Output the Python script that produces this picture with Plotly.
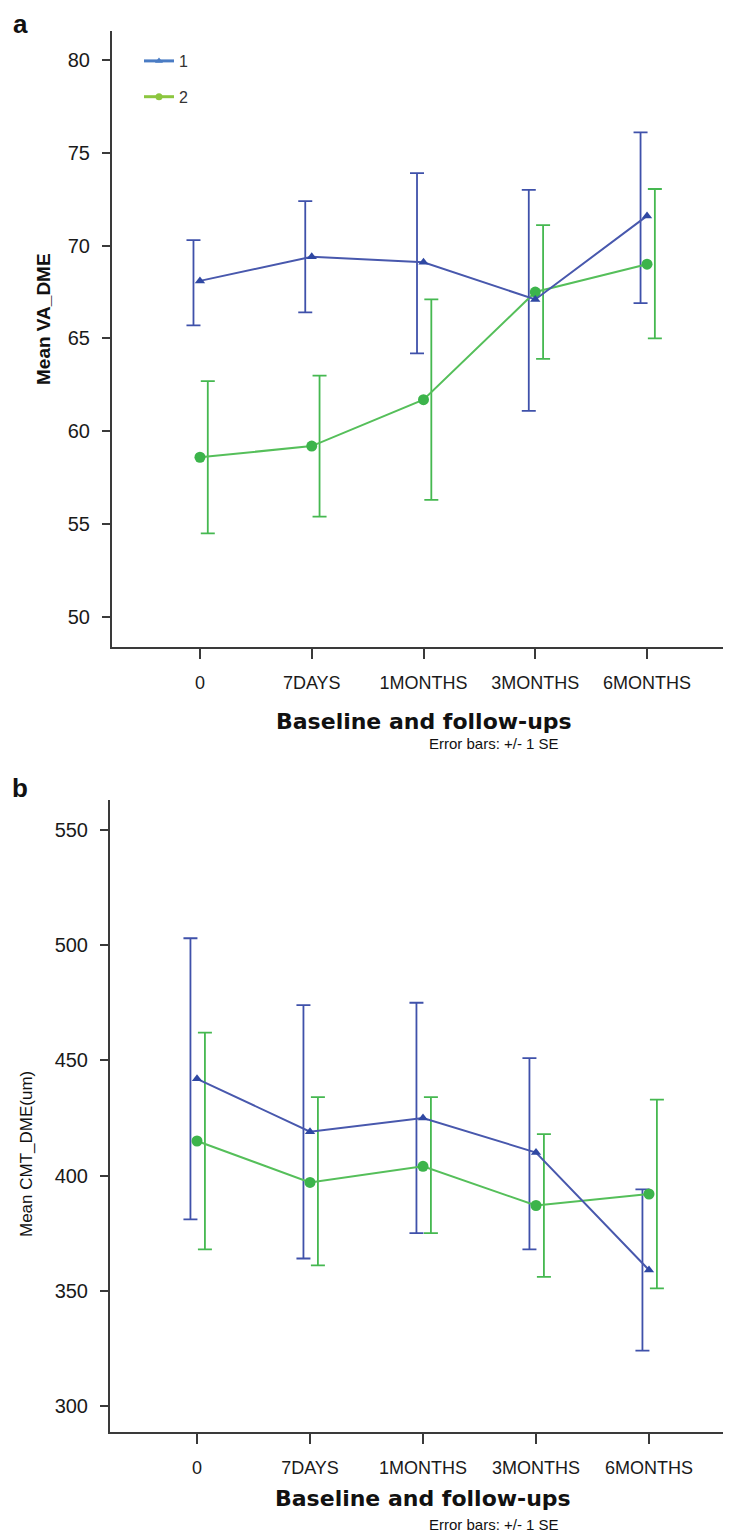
import plotly.graph_objects as go

W, H = 731, 1531

categories = ["0", "7DAYS", "1MONTHS", "3MONTHS", "6MONTHS"]
series_names = ["1", "2"]

# Panel a: Mean VA_DME (+/- 1 SE)
va_g1_mean = [68.1, 69.4, 69.1, 67.1, 71.6]
va_g1_upper = [70.3, 72.4, 73.9, 73.0, 76.1]
va_g1_lower = [65.7, 66.4, 64.2, 61.1, 66.9]
va_g2_mean = [58.6, 59.2, 61.7, 67.5, 69.0]
va_g2_upper = [62.7, 63.0, 67.1, 71.1, 73.05]
va_g2_lower = [54.5, 55.4, 56.3, 63.9, 65.0]

# Panel b: Mean CMT_DME(um) (+/- 1 SE)
cmt_g1_mean = [442, 419, 425, 410, 359]
cmt_g1_upper = [503, 474, 475, 451, 394]
cmt_g1_lower = [381, 364, 375, 368, 324]
cmt_g2_mean = [415, 397, 404, 387, 392]
cmt_g2_upper = [462, 434, 434, 418, 433]
cmt_g2_lower = [368, 361, 375, 356, 351]

va_ticks = [50, 55, 60, 65, 70, 75, 80]
cmt_ticks = [300, 350, 400, 450, 500, 550]

BLUE_LINE = "#4858ad"
BLUE_MARK = "#2f48a3"
BLUE_ERR = "#3f51aa"
GREEN_LINE = "#55bf5a"
GREEN_MARK = "#3cb44b"
GREEN_ERR = "#45b850"
LEG_BLUE = "#4a7cc4"
LEG_GREEN = "#8cc63f"
AX = "#3a3a3a"

OFF1, OFF2 = -0.058, 0.07

def px_x(p):
    return p / W

def px_y(p):
    return 1 - p / H

fig = go.Figure()

def add_panel(xa, ya, m1, u1, l1, m2, u2, l2):
    xs = list(range(len(categories)))
    # error bars (drawn slightly offset from markers, like the original)
    for m, u, l, off, col in [(m1, u1, l1, OFF1, BLUE_ERR), (m2, u2, l2, OFF2, GREEN_ERR)]:
        fig.add_trace(go.Scatter(
            x=[x + off for x in xs], y=m, mode="markers",
            marker=dict(size=1, color="rgba(0,0,0,0)"),
            error_y=dict(type="data", symmetric=False,
                         array=[a - b for a, b in zip(u, m)],
                         arrayminus=[b - a for a, b in zip(l, m)],
                         color=col, thickness=1.8, width=7),
            xaxis=xa, yaxis=ya, showlegend=False, hoverinfo="skip"))
    fig.add_trace(go.Scatter(
        x=xs, y=m2, mode="lines+markers",
        line=dict(color=GREEN_LINE, width=2),
        marker=dict(symbol="circle", size=11, color=GREEN_MARK),
        xaxis=xa, yaxis=ya, showlegend=False))
    fig.add_trace(go.Scatter(
        x=xs, y=m1, mode="lines+markers",
        line=dict(color=BLUE_LINE, width=2),
        marker=dict(symbol="triangle-up", size=9, color=BLUE_MARK),
        xaxis=xa, yaxis=ya, showlegend=False))

add_panel("x", "y", va_g1_mean, va_g1_upper, va_g1_lower, va_g2_mean, va_g2_upper, va_g2_lower)
add_panel("x2", "y2", cmt_g1_mean, cmt_g1_upper, cmt_g1_lower, cmt_g2_mean, cmt_g2_upper, cmt_g2_lower)

# legend entries (panel a)
for name, col, sym in [(series_names[0], LEG_BLUE, "triangle-up"), (series_names[1], LEG_GREEN, "circle")]:
    fig.add_trace(go.Scatter(
        x=[None], y=[None], mode="lines+markers", name=name, legendgroup=name,
        line=dict(color=col, width=3), marker=dict(symbol=sym, size=7, color=col),
        xaxis="x", yaxis="y"))

xcommon = dict(showline=True, linecolor=AX, linewidth=2, ticks="outside", ticklen=10,
               tickwidth=2, tickcolor=AX, showgrid=False, zeroline=False,
               tickmode="array", tickvals=list(range(len(categories))), ticktext=categories,
               tickfont=dict(family="Liberation Sans", size=18, color="#1a1a1a"),
               ticklabelstandoff=8)
ycommon = dict(showline=True, linecolor=AX, linewidth=2, ticks="outside", ticklen=8,
               tickwidth=2, tickcolor=AX, showgrid=False, zeroline=False,
               tickfont=dict(family="Liberation Sans", size=20, color="#1a1a1a"),
               ticklabelstandoff=8)

fig.update_layout(
    width=W, height=H, margin=dict(l=0, r=0, t=0, b=0),
    paper_bgcolor="white", plot_bgcolor="white",
    xaxis=dict(xcommon, domain=[px_x(104), px_x(728)], range=[-0.787, 4.796], anchor="y"),
    yaxis=dict(ycommon, domain=[px_y(639), px_y(23)], range=[48.38, 81.56],
               tickvals=va_ticks, anchor="x"),
    xaxis2=dict(xcommon, domain=[px_x(102), px_x(728)], range=[-0.77, 4.77], anchor="y2"),
    yaxis2=dict(ycommon, domain=[px_y(1424), px_y(792)], range=[288.7, 563.0],
                tickvals=cmt_ticks, anchor="x2"),
    legend=dict(x=px_x(131), y=px_y(36), xanchor="left", yanchor="top",
                bgcolor="rgba(0,0,0,0)", traceorder="grouped", tracegroupgap=12,
                font=dict(family="Liberation Sans", size=16, color="#333333")),
)

def ann(text, x, y, size, bold=False, angle=0, family="Liberation Sans", color="#111111"):
    fig.add_annotation(text=f"<b>{text}</b>" if bold else text,
                       x=px_x(x), y=px_y(y), xref="paper", yref="paper",
                       xanchor="center", yanchor="middle", showarrow=False,
                       textangle=angle, font=dict(family=family, size=size, color=color))

ann("a", 12, 16, 26, bold=True)
ann("b", 12, 780, 26, bold=True)
ann("Mean VA_DME", 35, 311, 19, bold=True, angle=-90)
ann("Mean CMT_DME(um)", 18, 1146, 17, angle=-90)
ann("Baseline and follow-ups", 416, 713, 22, bold=True, family="DejaVu Sans")
ann("Baseline and follow-ups", 415, 1490, 22, bold=True, family="DejaVu Sans")
ann("Error bars: +/- 1 SE", 486, 735, 15)
ann("Error bars: +/- 1 SE", 486, 1516, 15)

fig.write_html("out.html")
